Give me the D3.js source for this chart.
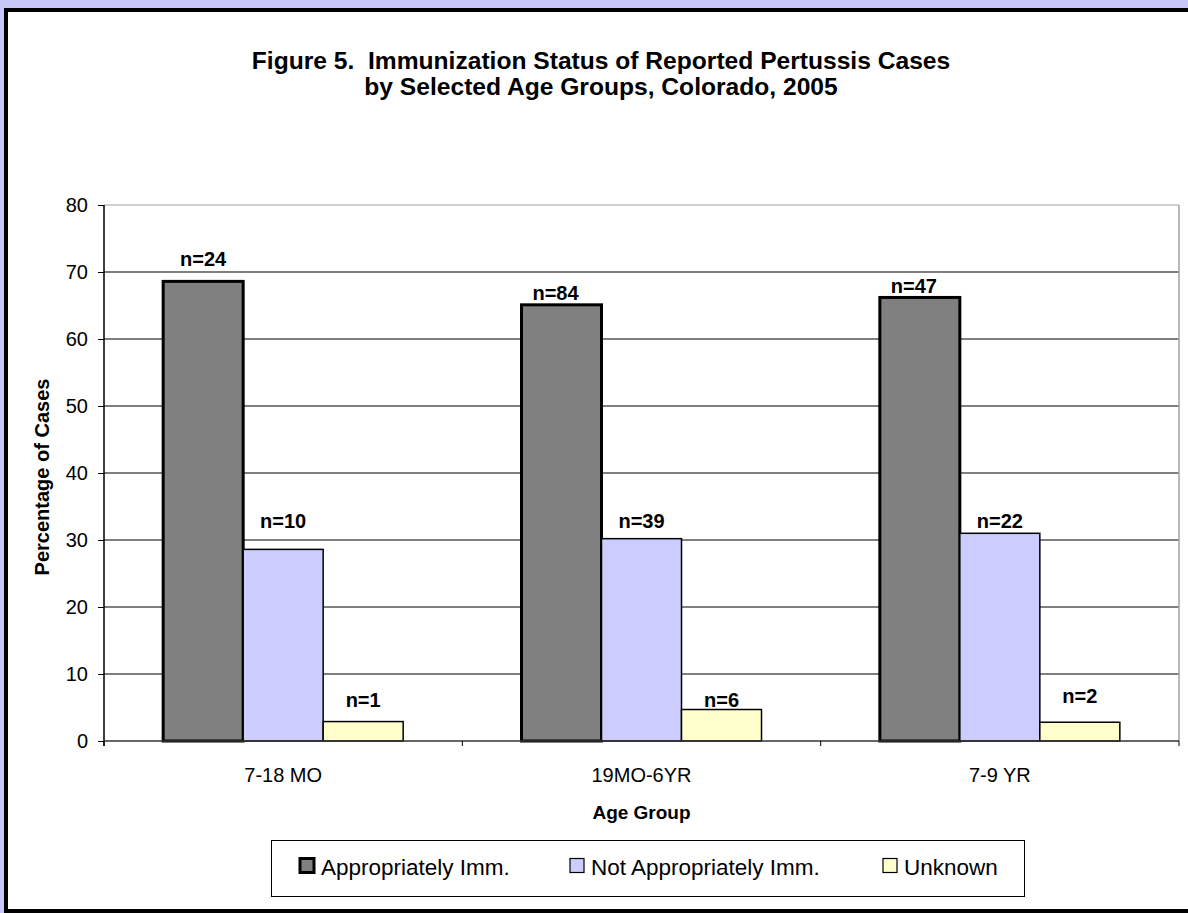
<!DOCTYPE html>
<html>
<head>
<meta charset="utf-8">
<script src="https://cdn.jsdelivr.net/npm/d3@7"></script>
<style>
  html, body { margin: 0; padding: 0; background: #c8c8f8; }
  svg { display: block; }
  text { font-family: "Liberation Sans", Arial, sans-serif; fill: #000; }
</style>
</head>
<body>
<svg id="chart" width="1188" height="913"></svg>
<script>
// Age groups and percentage of cases by immunization status
const categories = ["7-18 MO", "19MO-6YR", "7-9 YR"];
const seriesNames = ["Appropriately Imm.", "Not Appropriately Imm.", "Unknown"];
const appropriate = [68.6, 65.1, 66.2];
const notAppropriate = [28.6, 30.2, 31.0];
const unknown = [2.9, 4.7, 2.8];
// Case counts shown above each bar
const countsAppropriate = [24, 84, 47];
const countsNot = [10, 39, 22];
const countsUnknown = [1, 6, 2];
// Height (in percent units) at which each count label sits
const labelLevelAppropriate = [70.9, 65.8, 66.9];
const labelLevelNot = [31.8, 31.8, 31.8];
const labelLevelUnknown = [5.1, 5.1, 5.6];
const yTicks = [0, 10, 20, 30, 40, 50, 60, 70, 80];

const colors = ["#808080", "#ccccff", "#ffffcc"];
const strokeWidths = [3, 1.5, 1.5];

const series = [
  { name: seriesNames[0], values: appropriate, counts: countsAppropriate, levels: labelLevelAppropriate },
  { name: seriesNames[1], values: notAppropriate, counts: countsNot, levels: labelLevelNot },
  { name: seriesNames[2], values: unknown, counts: countsUnknown, levels: labelLevelUnknown }
];

const svg = d3.select("#chart");

// Outer panel with heavy black frame
svg.append("rect")
  .attr("x", 6).attr("y", 10)
  .attr("width", 1200).attr("height", 901)
  .attr("fill", "#fff")
  .attr("stroke", "#000").attr("stroke-width", 4);

// Title
const title = svg.append("text")
  .attr("text-anchor", "middle")
  .attr("font-weight", "bold")
  .attr("font-size", 24.6)
  .style("white-space", "pre");
title.append("tspan").attr("x", 601).attr("y", 69)
  .text("Figure 5.  Immunization Status of Reported Pertussis Cases");
title.append("tspan").attr("x", 601).attr("y", 95)
  .text("by Selected Age Groups, Colorado, 2005");

const plot = { left: 104, right: 1179, top: 205, bottom: 741 };

const x0 = d3.scaleBand()
  .domain(categories)
  .range([plot.left, plot.right])
  .paddingInner(0).paddingOuter(0);

const groupWidth = 240;
const x1 = d3.scaleBand()
  .domain(d3.range(series.length))
  .range([0, groupWidth]);

const y = d3.scaleLinear().domain([0, 80]).range([plot.bottom, plot.top]);

const g = svg.append("g");

// Horizontal gridlines
g.selectAll("line.grid")
  .data(yTicks.filter(t => t > 0))
  .join("line")
  .attr("class", "grid")
  .attr("x1", plot.left).attr("x2", plot.right)
  .attr("y1", d => y(d)).attr("y2", d => y(d))
  .attr("stroke", d => d === 80 ? "#a0a0a0" : "#000")
  .attr("stroke-width", 1);

// Right edge of plot area
g.append("line")
  .attr("x1", plot.right).attr("x2", plot.right)
  .attr("y1", plot.top).attr("y2", plot.bottom)
  .attr("stroke", "#a0a0a0").attr("stroke-width", 1.5);

const barX = (si, i) => x0(categories[i]) + (x0.bandwidth() - groupWidth) / 2 + x1(si);

// Bars
series.forEach((s, si) => {
  g.selectAll(null)
    .data(s.values)
    .join("rect")
    .attr("x", (d, i) => barX(si, i))
    .attr("y", d => y(d))
    .attr("width", x1.bandwidth())
    .attr("height", d => y(0) - y(d))
    .attr("fill", colors[si])
    .attr("stroke", "#000")
    .attr("stroke-width", strokeWidths[si]);
});

// Count labels
series.forEach((s, si) => {
  g.selectAll(null)
    .data(s.counts)
    .join("text")
    .attr("x", (d, i) => barX(si, i) + x1.bandwidth() / 2 - (si === 0 && i > 0 ? 6 : 0))
    .attr("y", (d, i) => y(s.levels[i]))
    .attr("text-anchor", "middle")
    .attr("font-weight", "bold")
    .attr("font-size", 20)
    .text(d => "n=" + d);
});

// Y axis
const yAxis = d3.axisLeft(y).tickValues(yTicks).tickSize(6).tickPadding(10).tickSizeOuter(0);
const yG = svg.append("g").attr("transform", `translate(${plot.left},0)`).call(yAxis);
yG.select(".domain").attr("stroke", "#000").attr("stroke-width", 1.5)
  .attr("d", `M0,${plot.top}V${plot.bottom + 5}`);
yG.selectAll(".tick line").attr("stroke", "#000");
yG.selectAll(".tick text").attr("font-size", 20).attr("font-family", "Liberation Sans, Arial, sans-serif");

// X axis
const xAxis = d3.axisBottom(x0).tickSize(0).tickPadding(27);
const xG = svg.append("g").attr("transform", `translate(0,${plot.bottom})`).call(xAxis);
xG.select(".domain").attr("stroke", "#333").attr("stroke-width", 1.5)
  .attr("d", `M${plot.left},0H${plot.right}`);
xG.selectAll(".tick text").attr("font-size", 20).attr("font-family", "Liberation Sans, Arial, sans-serif");
// Category separators
xG.selectAll("line.sep")
  .data(d3.range(categories.length + 1))
  .join("line")
  .attr("class", "sep")
  .attr("x1", d => plot.left + d * x0.bandwidth())
  .attr("x2", d => plot.left + d * x0.bandwidth())
  .attr("y1", 0).attr("y2", 5)
  .attr("stroke", "#000");

// Axis titles
svg.append("text")
  .attr("transform", `translate(49,${(plot.top + plot.bottom) / 2 + 4}) rotate(-90)`)
  .attr("text-anchor", "middle")
  .attr("font-weight", "bold")
  .attr("font-size", 20)
  .text("Percentage of Cases");

svg.append("text")
  .attr("x", (plot.left + plot.right) / 2).attr("y", 819)
  .attr("text-anchor", "middle")
  .attr("font-weight", "bold")
  .attr("font-size", 19)
  .text("Age Group");

// Legend
const legend = svg.append("g");
legend.append("rect")
  .attr("x", 271.5).attr("y", 840.5)
  .attr("width", 753).attr("height", 56)
  .attr("fill", "#fff").attr("stroke", "#000").attr("stroke-width", 1);

const legendX = [300, 570, 883];
seriesNames.forEach((name, i) => {
  legend.append("rect")
    .attr("x", legendX[i]).attr("y", 858.5)
    .attr("width", 14).attr("height", 14)
    .attr("fill", colors[i])
    .attr("stroke", "#000")
    .attr("stroke-width", i === 0 ? 3 : 1.2);
  legend.append("text")
    .attr("x", legendX[i] + 21).attr("y", 874.5)
    .attr("font-size", 22.5)
    .text(name);
});
</script>
</body>
</html>
